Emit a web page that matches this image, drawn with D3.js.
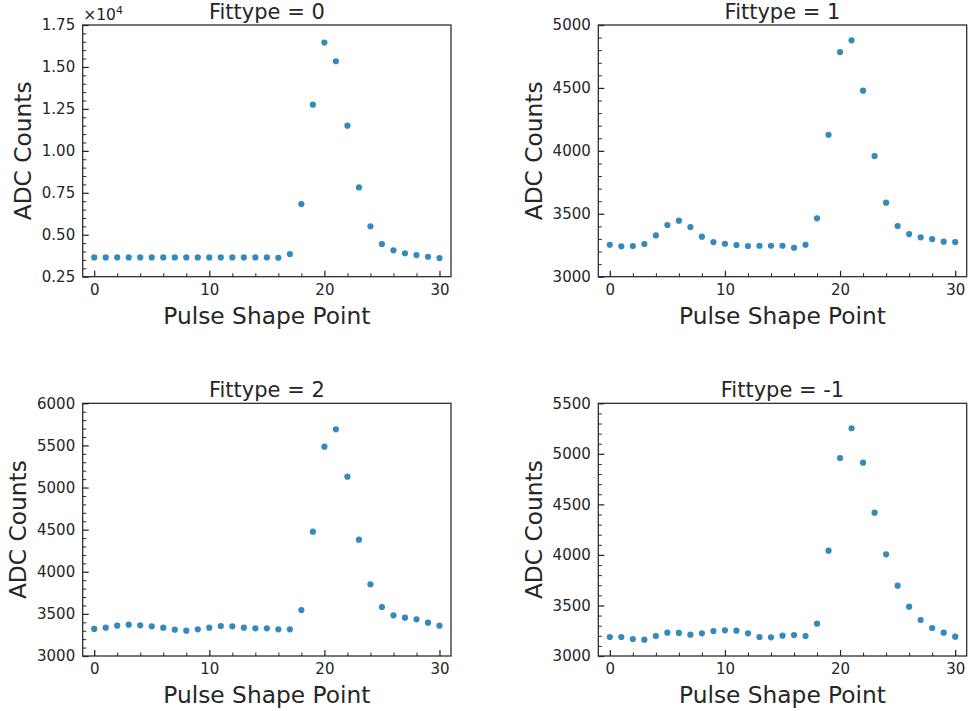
<!DOCTYPE html>
<html>
<head>
<meta charset="utf-8">
<script src="https://cdn.jsdelivr.net/npm/d3@7"></script>
<style>
  html, body { margin: 0; padding: 0; background: #fff; }
  svg { display: block; font-family: "DejaVu Sans", sans-serif; }
</style>
</head>
<body>
<svg id="chart" width="968" height="711"></svg>
<script>
// ---- data ----
const points = d3.range(0, 31);
const fit0 = [3650, 3650, 3650, 3650, 3650, 3650, 3650, 3650, 3650, 3650, 3650, 3650, 3650, 3650, 3650, 3650, 3630,
              3850, 6830, 12750, 16450, 15340, 11500, 7820, 5500, 4450, 4070, 3890, 3790, 3690, 3610];
const fit1 = [3254, 3241, 3244, 3260, 3328, 3411, 3445, 3395, 3318, 3275, 3262, 3252, 3244, 3246, 3246, 3246, 3230,
              3254, 3464, 4128, 4785, 4878, 4478, 3959, 3588, 3403, 3339, 3313, 3299, 3278, 3275];
const fit2 = [3321, 3336, 3360, 3372, 3364, 3352, 3336, 3313, 3301, 3317, 3336, 3356, 3352, 3336, 3328, 3328, 3317,
              3317, 3546, 4476, 5485, 5691, 5129, 4381, 3851, 3582, 3483, 3455, 3435, 3396, 3360];
const fitm1 = [3188, 3188, 3168, 3162, 3198, 3231, 3228, 3211, 3224, 3247, 3254, 3251, 3224, 3188, 3185, 3201, 3208,
               3198, 3320, 4042, 4959, 5253, 4913, 4418, 4006, 3696, 3488, 3356, 3277, 3231, 3191];
const titles = ["Fittype = 0", "Fittype = 1", "Fittype = 2", "Fittype = -1"];
const series = [fit0, fit1, fit2, fitm1];
const yDomains = [[2500, 17500], [3000, 5000], [3000, 6000], [3000, 5500]];
const yMajorSteps = [2500, 500, 500, 500];
const yMinorSteps = [500, 100, 100, 100];
const xDomain = [-1, 31];
const xMajorTicks = [0, 10, 20, 30];
const xMinorTicks = d3.range(0, 31, 2);
const xLabel = "Pulse Shape Point";
const yLabel = "ADC Counts";

// ---- layout ----
const cols = [[82.7, 451], [598.3, 966.7]];
const rows = [[25, 276.7], [403.3, 656]];
const ink = "#262626";
const dotColor = "#348ABD";

const svg = d3.select("#chart");

series.forEach((vals, i) => {
  const [x0, x1] = cols[i % 2];
  const [y0, y1] = rows[Math.floor(i / 2)];
  const g = svg.append("g");
  const x = d3.scaleLinear().domain(xDomain).range([x0, x1]);
  const y = d3.scaleLinear().domain(yDomains[i]).range([y1, y0]);
  const [ya, yb] = yDomains[i];
  const yMajor = d3.range(ya, yb + 1e-6, yMajorSteps[i]);
  const yMinor = d3.range(ya, yb + 1e-6, yMinorSteps[i]).filter(v => !yMajor.includes(v));
  const scaled = i === 0;
  const fmt = scaled ? (v => (v / 1e4).toFixed(2)) : d3.format("d");

  // minor ticks
  const yMinorAxis = d3.axisLeft(y).tickValues(yMinor).tickSizeInner(-3.5).tickSizeOuter(0).tickFormat("");
  g.append("g").attr("transform", `translate(${x0},0)`).call(yMinorAxis)
    .call(s => s.select(".domain").remove())
    .call(s => s.selectAll("line").attr("stroke", ink).attr("stroke-width", 1));
  const xMinorAxis = d3.axisBottom(x).tickValues(xMinorTicks.filter(v => !xMajorTicks.includes(v)))
    .tickSizeInner(-3.5).tickSizeOuter(0).tickFormat("");
  g.append("g").attr("transform", `translate(0,${y1})`).call(xMinorAxis)
    .call(s => s.select(".domain").remove())
    .call(s => s.selectAll("line").attr("stroke", ink).attr("stroke-width", 1));

  // major axes
  const yAxis = d3.axisLeft(y).tickValues(yMajor).tickSizeInner(-6).tickSizeOuter(0).tickPadding(7.5).tickFormat(fmt);
  g.append("g").attr("transform", `translate(${x0},0)`).call(yAxis)
    .call(s => s.select(".domain").remove())
    .call(s => s.selectAll("line").attr("stroke", ink).attr("stroke-width", 1.25))
    .call(s => s.selectAll("text").attr("fill", ink).style("font-size", "15px").style("font-family", "DejaVu Sans"));
  const xAxis = d3.axisBottom(x).tickValues(xMajorTicks).tickSizeInner(-6).tickSizeOuter(0).tickPadding(7.2).tickFormat(d3.format("d"));
  g.append("g").attr("transform", `translate(0,${y1})`).call(xAxis)
    .call(s => s.select(".domain").remove())
    .call(s => s.selectAll("line").attr("stroke", ink).attr("stroke-width", 1.25))
    .call(s => s.selectAll("text").attr("fill", ink).style("font-size", "15px").style("font-family", "DejaVu Sans"));

  // frame
  g.append("rect").attr("x", x0).attr("y", y0).attr("width", x1 - x0).attr("height", y1 - y0)
    .attr("fill", "none").attr("stroke", ink).attr("stroke-width", 1.25);

  // points
  g.append("g").selectAll("circle").data(vals).join("circle")
    .attr("cx", (d, j) => x(points[j])).attr("cy", d => y(d)).attr("r", 3.1).attr("fill", dotColor);

  // title
  g.append("text").attr("x", (x0 + x1) / 2).attr("y", y0 - 6).attr("text-anchor", "middle")
    .attr("fill", ink).style("font-size", "21px").text(titles[i]);

  // x label
  g.append("text").attr("x", (x0 + x1) / 2).attr("y", y1 + 47).attr("text-anchor", "middle")
    .attr("fill", ink).style("font-size", "23.3px").text(xLabel);

  // y label
  const ylx = (i % 2 === 0) ? (i === 0 ? 30.5 : 26) : 541.7;
  g.append("text").attr("transform", `translate(${ylx},${(y0 + y1) / 2}) rotate(-90)`)
    .attr("text-anchor", "middle").attr("fill", ink).style("font-size", "23.3px").text(yLabel);

  // offset text
  if (scaled) {
    const t = g.append("text").attr("x", x0 + 0.5).attr("y", y0 - 5).attr("fill", ink).style("font-size", "15.5px");
    t.append("tspan").text("\u00d710");
    t.append("tspan").attr("dy", -6.5).style("font-size", "11px").text("4");
  }
});
</script>
</body>
</html>
